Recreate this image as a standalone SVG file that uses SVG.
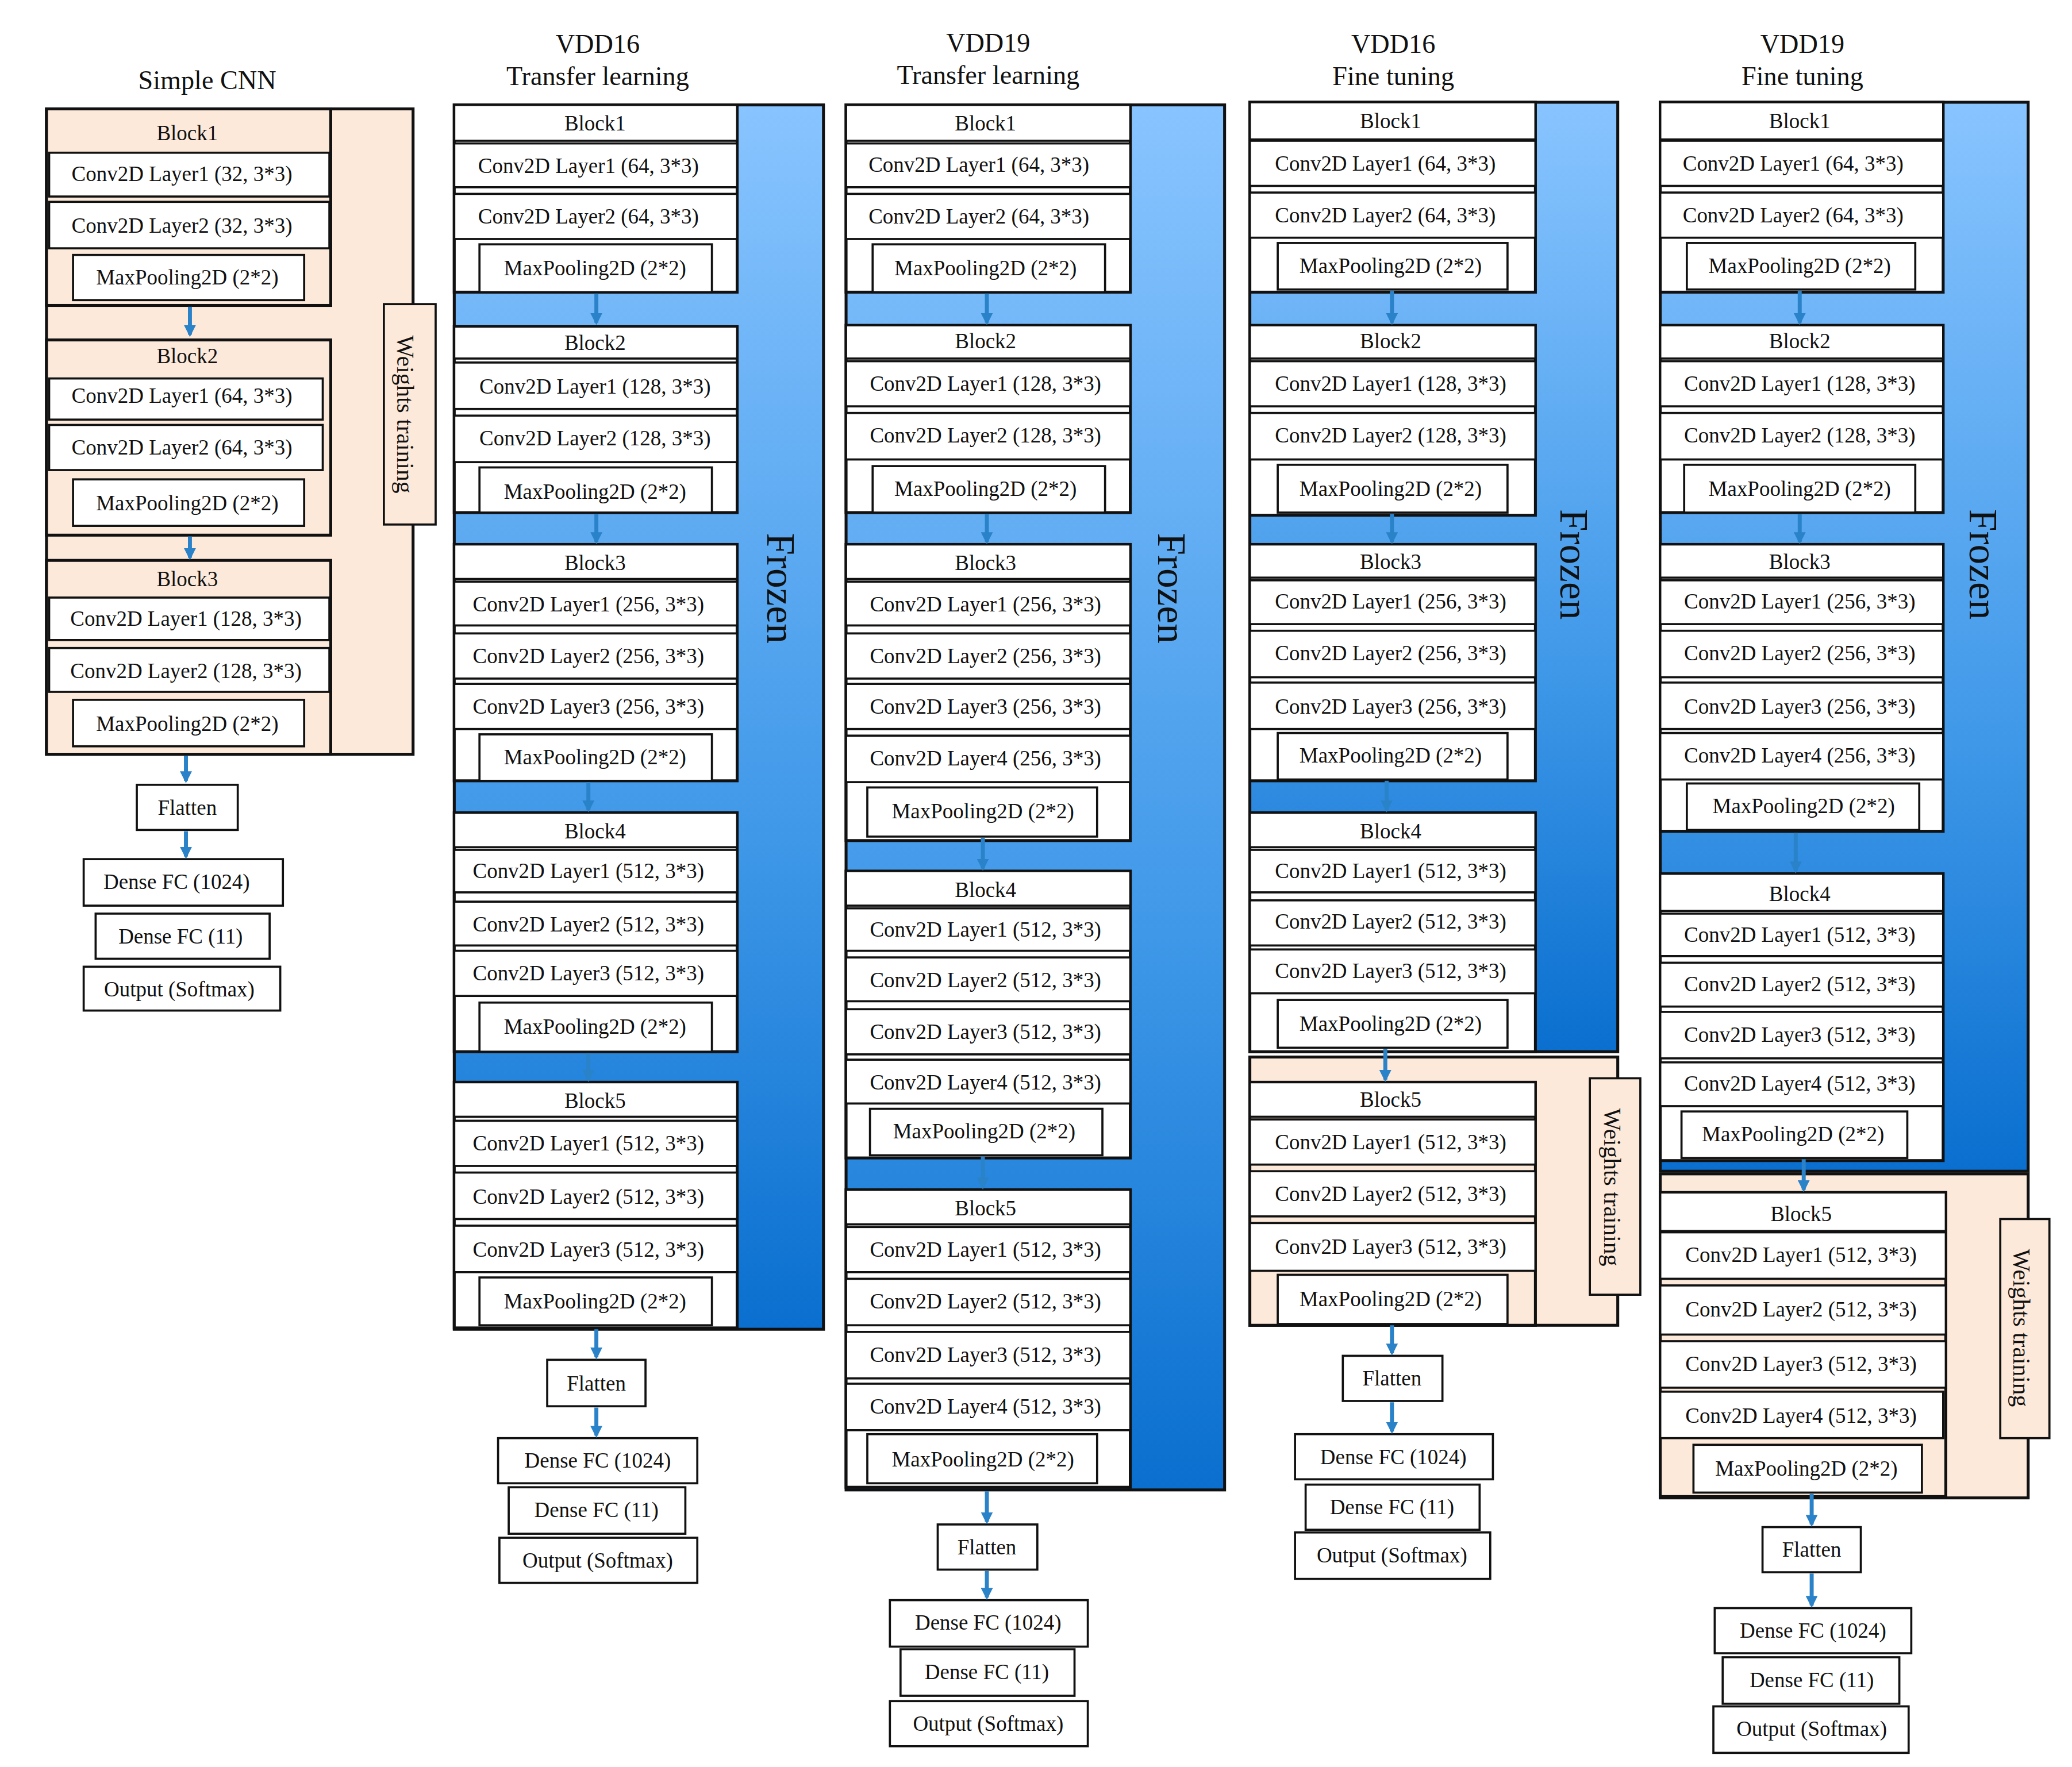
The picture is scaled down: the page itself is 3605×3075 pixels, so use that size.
<svg xmlns="http://www.w3.org/2000/svg" width="3605" height="3075" viewBox="0 0 3605 3075">
<style>
text{font-family:"Liberation Serif","Times New Roman",serif;fill:#111}
.l{font-size:16px;text-anchor:middle;dominant-baseline:central}
.t{font-size:20px;text-anchor:middle}
.fz{font-size:30px;text-anchor:middle;dominant-baseline:central}
.wt{font-size:18px;text-anchor:middle;dominant-baseline:central}
.r{fill:#fff;stroke:#111;stroke-width:1.6}
.p{fill:#fde9da;stroke:#111;stroke-width:1.6}
.bo{fill:#fff;stroke:#111;stroke-width:2.2}
.bp{fill:#fde9da;stroke:#111;stroke-width:2.2}
.a{stroke:#2a82c8;stroke-width:3;fill:none;marker-end:url(#ah)}
</style>
<defs>
<linearGradient id="bg" x1="0" y1="0" x2="0" y2="1"><stop offset="0" stop-color="#88c4ff"/><stop offset="0.6" stop-color="#3f98e8"/><stop offset="1" stop-color="#0a6fcf"/></linearGradient>
<marker id="ah" viewBox="0 0 10 10" refX="8" refY="5" markerWidth="3" markerHeight="3" orient="auto"><path d="M0,0L10,5L0,10z" fill="#2a82c8"/></marker>
</defs>
<rect width="3605" height="3075" fill="#fff"/>
<g transform="scale(2.3109)">
<!-- titles -->
<g id="titles">
<text class="t" x="156" y="67">Simple CNN</text>
<text class="t" x="450" y="40">VDD16</text><text class="t" x="450" y="64">Transfer learning</text>
<text class="t" x="744" y="39">VDD19</text><text class="t" x="744" y="63">Transfer learning</text>
<text class="t" x="1049" y="40">VDD16</text><text class="t" x="1049" y="64">Fine tuning</text>
<text class="t" x="1357" y="40">VDD19</text><text class="t" x="1357" y="64">Fine tuning</text>
</g>
<!-- backgrounds -->
<g id="backgrounds">
<rect x="35" y="82" width="276" height="486" class="bp"/>
<rect x="342" y="79" width="278" height="922" fill="url(#bg)" stroke="#111" stroke-width="2.2"/>
<rect x="637" y="79" width="285" height="1043" fill="url(#bg)" stroke="#111" stroke-width="2.2"/>
<rect x="941" y="77" width="277" height="715" fill="url(#bg)" stroke="#111" stroke-width="2.2"/>
<rect x="941" y="796" width="277" height="202" class="bp"/>
<rect x="1250" y="77" width="277" height="805" fill="url(#bg)" stroke="#111" stroke-width="2.2"/>
<rect x="1250" y="884" width="277" height="244" class="bp"/>
</g>
<!-- Simple CNN -->
<g id="cnn-b1"><rect class="bp" x="35" y="82" width="214" height="148"/>
<rect class="r" x="37" y="115" width="211" height="33"/><text class="l" x="137" y="131">Conv2D Layer1 (32, 3*3)</text>
<rect class="r" x="37" y="152" width="211" height="35"/><text class="l" x="137" y="170">Conv2D Layer2 (32, 3*3)</text>
<rect class="r" x="55" y="192" width="174" height="34"/><text class="l" x="141" y="209">MaxPooling2D (2*2)</text>
<text class="l" x="141" y="100">Block1</text></g>
<g id="cnn-b2"><rect class="bp" x="35" y="256" width="214" height="147"/>
<rect class="r" x="37" y="285" width="206" height="31"/><text class="l" x="137" y="298">Conv2D Layer1 (64, 3*3)</text>
<rect class="r" x="37" y="320" width="206" height="34"/><text class="l" x="137" y="337">Conv2D Layer2 (64, 3*3)</text>
<rect class="r" x="55" y="361" width="174" height="35"/><text class="l" x="141" y="379">MaxPooling2D (2*2)</text>
<text class="l" x="141" y="268">Block2</text></g>
<g id="cnn-b3"><rect class="bp" x="35" y="422" width="214" height="146"/>
<rect class="r" x="37" y="450" width="211" height="32"/><text class="l" x="140" y="466">Conv2D Layer1 (128, 3*3)</text>
<rect class="r" x="37" y="488" width="211" height="33"/><text class="l" x="140" y="505">Conv2D Layer2 (128, 3*3)</text>
<rect class="r" x="55" y="527" width="174" height="35"/><text class="l" x="141" y="545">MaxPooling2D (2*2)</text>
<text class="l" x="141" y="436">Block3</text></g>
<g id="cnn-wt"><rect class="p" x="289" y="229" width="39" height="166"/><text class="wt" transform="translate(305,312) rotate(90)">Weights training</text></g>
<g id="cnn-head">
<rect class="r" x="103" y="591" width="76" height="34"/><text class="l" x="141" y="608">Flatten</text>
<rect class="r" x="63" y="647" width="150" height="35"/><text class="l" x="133" y="664">Dense FC  (1024)</text>
<rect class="r" x="72" y="688" width="131" height="34"/><text class="l" x="136" y="705">Dense FC  (11)</text>
<rect class="r" x="63" y="728" width="148" height="33"/><text class="l" x="135" y="745">Output (Softmax)</text></g>

<!-- VDD16 TL -->
<g id="v16t-b1"><rect class="bo" x="342" y="79" width="213" height="141"/>
<rect class="r" x="342" y="79" width="213" height="27"/><text class="l" x="448" y="93">Block1</text>
<rect class="r" x="342" y="108" width="213" height="33"/><text class="l" x="443" y="125">Conv2D Layer1 (64, 3*3)</text>
<rect class="r" x="342" y="146" width="213" height="34"/><text class="l" x="443" y="163">Conv2D Layer2 (64, 3*3)</text>
<rect class="r" x="361" y="184" width="175" height="36"/><text class="l" x="448" y="202">MaxPooling2D (2*2)</text></g>
<g id="v16t-b2"><rect class="bo" x="342" y="246" width="213" height="140"/>
<rect class="r" x="342" y="246" width="213" height="24"/><text class="l" x="448" y="258">Block2</text>
<rect class="r" x="342" y="273" width="213" height="35"/><text class="l" x="448" y="291">Conv2D Layer1 (128, 3*3)</text>
<rect class="r" x="342" y="313" width="213" height="35"/><text class="l" x="448" y="330">Conv2D Layer2 (128, 3*3)</text>
<rect class="r" x="361" y="352" width="175" height="34"/><text class="l" x="448" y="370">MaxPooling2D (2*2)</text></g>
<g id="v16t-b3"><rect class="bo" x="342" y="410" width="213" height="178"/>
<rect class="r" x="342" y="410" width="213" height="26"/><text class="l" x="448" y="424">Block3</text>
<rect class="r" x="342" y="438" width="213" height="33"/><text class="l" x="443" y="455">Conv2D Layer1 (256, 3*3)</text>
<rect class="r" x="342" y="477" width="213" height="34"/><text class="l" x="443" y="494">Conv2D Layer2 (256, 3*3)</text>
<rect class="r" x="342" y="515" width="213" height="34"/><text class="l" x="443" y="532">Conv2D Layer3 (256, 3*3)</text>
<rect class="r" x="361" y="553" width="175" height="35"/><text class="l" x="448" y="570">MaxPooling2D (2*2)</text></g>
<g id="v16t-b4"><rect class="bo" x="342" y="612" width="213" height="180"/>
<rect class="r" x="342" y="612" width="213" height="26"/><text class="l" x="448" y="626">Block4</text>
<rect class="r" x="342" y="640" width="213" height="32"/><text class="l" x="443" y="656">Conv2D Layer1 (512, 3*3)</text>
<rect class="r" x="342" y="679" width="213" height="33"/><text class="l" x="443" y="696">Conv2D Layer2 (512, 3*3)</text>
<rect class="r" x="342" y="716" width="213" height="34"/><text class="l" x="443" y="733">Conv2D Layer3 (512, 3*3)</text>
<rect class="r" x="361" y="755" width="175" height="37"/><text class="l" x="448" y="773">MaxPooling2D (2*2)</text></g>
<g id="v16t-b5"><rect class="bo" x="342" y="815" width="213" height="185"/>
<rect class="r" x="342" y="815" width="213" height="26"/><text class="l" x="448" y="829">Block5</text>
<rect class="r" x="342" y="844" width="213" height="34"/><text class="l" x="443" y="861">Conv2D Layer1 (512, 3*3)</text>
<rect class="r" x="342" y="883" width="213" height="35"/><text class="l" x="443" y="901">Conv2D Layer2 (512, 3*3)</text>
<rect class="r" x="342" y="923" width="213" height="35"/><text class="l" x="443" y="941">Conv2D Layer3 (512, 3*3)</text>
<rect class="r" x="361" y="962" width="175" height="36"/><text class="l" x="448" y="980">MaxPooling2D (2*2)</text></g>
<g id="v16t-frozen"><text class="fz" transform="translate(588,443) rotate(90)">Frozen</text></g>
<g id="v16t-head">
<rect class="r" x="412" y="1024" width="74" height="35"/><text class="l" x="449" y="1042">Flatten</text>
<rect class="r" x="375" y="1083" width="150" height="34"/><text class="l" x="450" y="1100">Dense FC  (1024)</text>
<rect class="r" x="383" y="1120" width="133" height="35"/><text class="l" x="449" y="1137">Dense FC  (11)</text>
<rect class="r" x="376" y="1158" width="149" height="34"/><text class="l" x="450" y="1175">Output (Softmax)</text></g>

<!-- VDD19 TL -->
<g id="v19t-b1"><rect class="bo" x="637" y="79" width="214" height="141"/>
<rect class="r" x="637" y="79" width="214" height="27"/><text class="l" x="742" y="93">Block1</text>
<rect class="r" x="637" y="108" width="214" height="33"/><text class="l" x="737" y="124">Conv2D Layer1 (64, 3*3)</text>
<rect class="r" x="637" y="146" width="214" height="34"/><text class="l" x="737" y="163">Conv2D Layer2 (64, 3*3)</text>
<rect class="r" x="657" y="184" width="175" height="36"/><text class="l" x="742" y="202">MaxPooling2D (2*2)</text></g>
<g id="v19t-b2"><rect class="bo" x="637" y="245" width="214" height="141"/>
<rect class="r" x="637" y="245" width="214" height="25"/><text class="l" x="742" y="257">Block2</text>
<rect class="r" x="637" y="272" width="214" height="34"/><text class="l" x="742" y="289">Conv2D Layer1 (128, 3*3)</text>
<rect class="r" x="637" y="311" width="214" height="35"/><text class="l" x="742" y="328">Conv2D Layer2 (128, 3*3)</text>
<rect class="r" x="657" y="351" width="175" height="35"/><text class="l" x="742" y="368">MaxPooling2D (2*2)</text></g>
<g id="v19t-b3"><rect class="bo" x="637" y="410" width="214" height="223"/>
<rect class="r" x="637" y="410" width="214" height="26"/><text class="l" x="742" y="424">Block3</text>
<rect class="r" x="637" y="438" width="214" height="33"/><text class="l" x="742" y="455">Conv2D Layer1 (256, 3*3)</text>
<rect class="r" x="637" y="477" width="214" height="34"/><text class="l" x="742" y="494">Conv2D Layer2 (256, 3*3)</text>
<rect class="r" x="637" y="515" width="214" height="34"/><text class="l" x="742" y="532">Conv2D Layer3 (256, 3*3)</text>
<rect class="r" x="637" y="554" width="214" height="35"/><text class="l" x="742" y="571">Conv2D Layer4 (256, 3*3)</text>
<rect class="r" x="653" y="593" width="173" height="37"/><text class="l" x="740" y="611">MaxPooling2D (2*2)</text></g>
<g id="v19t-b4"><rect class="bo" x="637" y="656" width="214" height="216"/>
<rect class="r" x="637" y="656" width="214" height="26"/><text class="l" x="742" y="670">Block4</text>
<rect class="r" x="637" y="684" width="214" height="32"/><text class="l" x="742" y="700">Conv2D Layer1 (512, 3*3)</text>
<rect class="r" x="637" y="721" width="214" height="33"/><text class="l" x="742" y="738">Conv2D Layer2 (512, 3*3)</text>
<rect class="r" x="637" y="760" width="214" height="34"/><text class="l" x="742" y="777">Conv2D Layer3 (512, 3*3)</text>
<rect class="r" x="637" y="798" width="214" height="33"/><text class="l" x="742" y="815">Conv2D Layer4 (512, 3*3)</text>
<rect class="r" x="655" y="835" width="175" height="35"/><text class="l" x="741" y="852">MaxPooling2D (2*2)</text></g>
<g id="v19t-b5"><rect class="bo" x="637" y="896" width="214" height="224"/>
<rect class="r" x="637" y="896" width="214" height="26"/><text class="l" x="742" y="910">Block5</text>
<rect class="r" x="637" y="924" width="214" height="34"/><text class="l" x="742" y="941">Conv2D Layer1 (512, 3*3)</text>
<rect class="r" x="637" y="963" width="214" height="35"/><text class="l" x="742" y="980">Conv2D Layer2 (512, 3*3)</text>
<rect class="r" x="637" y="1003" width="214" height="35"/><text class="l" x="742" y="1020">Conv2D Layer3 (512, 3*3)</text>
<rect class="r" x="637" y="1042" width="214" height="35"/><text class="l" x="742" y="1059">Conv2D Layer4 (512, 3*3)</text>
<rect class="r" x="653" y="1080" width="173" height="37"/><text class="l" x="740" y="1099">MaxPooling2D (2*2)</text></g>
<g id="v19t-frozen"><text class="fz" transform="translate(882,443) rotate(90)">Frozen</text></g>
<g id="v19t-head">
<rect class="r" x="706" y="1148" width="75" height="34"/><text class="l" x="743" y="1165">Flatten</text>
<rect class="r" x="670" y="1205" width="149" height="35"/><text class="l" x="744" y="1222">Dense FC  (1024)</text>
<rect class="r" x="678" y="1242" width="131" height="35"/><text class="l" x="743" y="1259">Dense FC  (11)</text>
<rect class="r" x="670" y="1281" width="149" height="34"/><text class="l" x="744" y="1298">Output (Softmax)</text></g>

<!-- VDD16 FT -->
<g id="v16f-b1"><rect class="bo" x="941" y="77" width="215" height="143"/>
<rect class="r" x="941" y="77" width="215" height="28"/><text class="l" x="1047" y="91">Block1</text>
<rect class="r" x="941" y="106" width="215" height="34"/><text class="l" x="1043" y="123">Conv2D Layer1 (64, 3*3)</text>
<rect class="r" x="941" y="145" width="215" height="34"/><text class="l" x="1043" y="162">Conv2D Layer2 (64, 3*3)</text>
<rect class="r" x="962" y="183" width="173" height="35"/><text class="l" x="1047" y="200">MaxPooling2D (2*2)</text></g>
<g id="v16f-b2"><rect class="bo" x="941" y="245" width="215" height="143"/>
<rect class="r" x="941" y="245" width="215" height="25"/><text class="l" x="1047" y="257">Block2</text>
<rect class="r" x="941" y="272" width="215" height="34"/><text class="l" x="1047" y="289">Conv2D Layer1 (128, 3*3)</text>
<rect class="r" x="941" y="311" width="215" height="35"/><text class="l" x="1047" y="328">Conv2D Layer2 (128, 3*3)</text>
<rect class="r" x="962" y="350" width="173" height="36"/><text class="l" x="1047" y="368">MaxPooling2D (2*2)</text></g>
<g id="v16f-b3"><rect class="bo" x="941" y="410" width="215" height="178"/>
<rect class="r" x="941" y="410" width="215" height="25"/><text class="l" x="1047" y="423">Block3</text>
<rect class="r" x="941" y="437" width="215" height="33"/><text class="l" x="1047" y="453">Conv2D Layer1 (256, 3*3)</text>
<rect class="r" x="941" y="475" width="215" height="35"/><text class="l" x="1047" y="492">Conv2D Layer2 (256, 3*3)</text>
<rect class="r" x="941" y="514" width="215" height="35"/><text class="l" x="1047" y="532">Conv2D Layer3 (256, 3*3)</text>
<rect class="r" x="962" y="552" width="173" height="35"/><text class="l" x="1047" y="569">MaxPooling2D (2*2)</text></g>
<g id="v16f-b4"><rect class="bo" x="941" y="612" width="215" height="180"/>
<rect class="r" x="941" y="612" width="215" height="26"/><text class="l" x="1047" y="626">Block4</text>
<rect class="r" x="941" y="640" width="215" height="32"/><text class="l" x="1047" y="656">Conv2D Layer1 (512, 3*3)</text>
<rect class="r" x="941" y="678" width="215" height="34"/><text class="l" x="1047" y="694">Conv2D Layer2 (512, 3*3)</text>
<rect class="r" x="941" y="715" width="215" height="33"/><text class="l" x="1047" y="731">Conv2D Layer3 (512, 3*3)</text>
<rect class="r" x="962" y="753" width="173" height="36"/><text class="l" x="1047" y="771">MaxPooling2D (2*2)</text></g>
<g id="v16f-frozen"><text class="fz" transform="translate(1185,425) rotate(90)">Frozen</text></g>
<g id="v16f-b5"><rect class="bp" x="941" y="815" width="215" height="183"/>
<rect class="r" x="941" y="815" width="215" height="26"/><text class="l" x="1047" y="828">Block5</text>
<rect class="r" x="941" y="843" width="215" height="34"/><text class="l" x="1047" y="860">Conv2D Layer1 (512, 3*3)</text>
<rect class="r" x="941" y="882" width="215" height="34"/><text class="l" x="1047" y="899">Conv2D Layer2 (512, 3*3)</text>
<rect class="r" x="941" y="921" width="215" height="36"/><text class="l" x="1047" y="939">Conv2D Layer3 (512, 3*3)</text>
<rect class="r" x="962" y="960" width="173" height="37"/><text class="l" x="1047" y="978">MaxPooling2D (2*2)</text></g>
<g id="v16f-wt"><rect class="p" x="1197" y="812" width="38" height="163"/><text class="wt" transform="translate(1214,894) rotate(90)">Weights training</text></g>
<g id="v16f-head">
<rect class="r" x="1011" y="1021" width="75" height="34"/><text class="l" x="1048" y="1038">Flatten</text>
<rect class="r" x="975" y="1080" width="149" height="34"/><text class="l" x="1049" y="1097">Dense FC  (1024)</text>
<rect class="r" x="983" y="1118" width="131" height="34"/><text class="l" x="1048" y="1135">Dense FC  (11)</text>
<rect class="r" x="975" y="1154" width="147" height="35"/><text class="l" x="1048" y="1171">Output (Softmax)</text></g>

<!-- VDD19 FT -->
<g id="v19f-b1"><rect class="bo" x="1250" y="77" width="213" height="143"/>
<rect class="r" x="1250" y="77" width="213" height="28"/><text class="l" x="1355" y="91">Block1</text>
<rect class="r" x="1250" y="106" width="213" height="34"/><text class="l" x="1350" y="123">Conv2D Layer1 (64, 3*3)</text>
<rect class="r" x="1250" y="145" width="213" height="34"/><text class="l" x="1350" y="162">Conv2D Layer2 (64, 3*3)</text>
<rect class="r" x="1270" y="183" width="172" height="35"/><text class="l" x="1355" y="200">MaxPooling2D (2*2)</text></g>
<g id="v19f-b2"><rect class="bo" x="1250" y="245" width="213" height="141"/>
<rect class="r" x="1250" y="245" width="213" height="25"/><text class="l" x="1355" y="257">Block2</text>
<rect class="r" x="1250" y="272" width="213" height="34"/><text class="l" x="1355" y="289">Conv2D Layer1 (128, 3*3)</text>
<rect class="r" x="1250" y="311" width="213" height="35"/><text class="l" x="1355" y="328">Conv2D Layer2 (128, 3*3)</text>
<rect class="r" x="1268" y="350" width="174" height="36"/><text class="l" x="1355" y="368">MaxPooling2D (2*2)</text></g>
<g id="v19f-b3"><rect class="bo" x="1250" y="410" width="213" height="216"/>
<rect class="r" x="1250" y="410" width="213" height="25"/><text class="l" x="1355" y="423">Block3</text>
<rect class="r" x="1250" y="437" width="213" height="33"/><text class="l" x="1355" y="453">Conv2D Layer1 (256, 3*3)</text>
<rect class="r" x="1250" y="475" width="213" height="35"/><text class="l" x="1355" y="492">Conv2D Layer2 (256, 3*3)</text>
<rect class="r" x="1250" y="514" width="213" height="35"/><text class="l" x="1355" y="532">Conv2D Layer3 (256, 3*3)</text>
<rect class="r" x="1250" y="552" width="213" height="35"/><text class="l" x="1355" y="569">Conv2D Layer4 (256, 3*3)</text>
<rect class="r" x="1270" y="590" width="175" height="35"/><text class="l" x="1358" y="607">MaxPooling2D (2*2)</text></g>
<g id="v19f-b4"><rect class="bo" x="1250" y="658" width="213" height="216"/>
<rect class="r" x="1250" y="658" width="213" height="28"/><text class="l" x="1355" y="673">Block4</text>
<rect class="r" x="1250" y="688" width="213" height="32"/><text class="l" x="1355" y="704">Conv2D Layer1 (512, 3*3)</text>
<rect class="r" x="1250" y="725" width="213" height="33"/><text class="l" x="1355" y="741">Conv2D Layer2 (512, 3*3)</text>
<rect class="r" x="1250" y="762" width="213" height="35"/><text class="l" x="1355" y="779">Conv2D Layer3 (512, 3*3)</text>
<rect class="r" x="1250" y="800" width="213" height="33"/><text class="l" x="1355" y="816">Conv2D Layer4 (512, 3*3)</text>
<rect class="r" x="1266" y="837" width="170" height="35"/><text class="l" x="1350" y="854">MaxPooling2D (2*2)</text></g>
<g id="v19f-frozen"><text class="fz" transform="translate(1493,425) rotate(90)">Frozen</text></g>
<g id="v19f-b5"><rect class="bp" x="1250" y="898" width="215" height="229"/>
<rect class="r" x="1250" y="898" width="215" height="29"/><text class="l" x="1356" y="914">Block5</text>
<rect class="r" x="1250" y="928" width="215" height="35"/><text class="l" x="1356" y="945">Conv2D Layer1 (512, 3*3)</text>
<rect class="r" x="1250" y="968" width="215" height="37"/><text class="l" x="1356" y="986">Conv2D Layer2 (512, 3*3)</text>
<rect class="r" x="1250" y="1010" width="215" height="35"/><text class="l" x="1356" y="1027">Conv2D Layer3 (512, 3*3)</text>
<rect class="r" x="1250" y="1048" width="213" height="35"/><text class="l" x="1356" y="1066">Conv2D Layer4 (512, 3*3)</text>
<rect class="r" x="1275" y="1088" width="172" height="36"/><text class="l" x="1360" y="1106">MaxPooling2D (2*2)</text></g>
<g id="v19f-wt"><rect class="p" x="1506" y="918" width="37" height="165"/><text class="wt" transform="translate(1522,1000) rotate(90)">Weights training</text></g>
<g id="v19f-head">
<rect class="r" x="1327" y="1150" width="74" height="34"/><text class="l" x="1364" y="1167">Flatten</text>
<rect class="r" x="1291" y="1211" width="148" height="34"/><text class="l" x="1365" y="1228">Dense FC  (1024)</text>
<rect class="r" x="1297" y="1248" width="133" height="35"/><text class="l" x="1364" y="1265">Dense FC  (11)</text>
<rect class="r" x="1290" y="1285" width="147" height="35"/><text class="l" x="1364" y="1302">Output (Softmax)</text></g>

<g id="connectors">
<path class="a" d="M143 231V252"/><path class="a" d="M143 404V420"/><path class="a" d="M140 569V588"/><path class="a" d="M140 626V645"/>
<path class="a" d="M449 221V243"/><path class="a" d="M449 387V408"/><path class="a" d="M443 589V610"/><path class="a" d="M443 793V813"/><path class="a" d="M449 1001V1022"/><path class="a" d="M449 1060V1081"/>
<path class="a" d="M743 221V243"/><path class="a" d="M743 387V408"/><path class="a" d="M740 631V654"/><path class="a" d="M740 871V894"/><path class="a" d="M743 1123V1146"/><path class="a" d="M743 1183V1203"/>
<path class="a" d="M1048 219V243"/><path class="a" d="M1048 387V408"/><path class="a" d="M1044 588V610"/><path class="a" d="M1043 790V813"/><path class="a" d="M1048 998V1019"/><path class="a" d="M1048 1056V1078"/>
<path class="a" d="M1355 219V243"/><path class="a" d="M1355 387V408"/><path class="a" d="M1352 627V656"/><path class="a" d="M1358 873V896"/><path class="a" d="M1364 1125V1148"/><path class="a" d="M1364 1185V1209"/>
</g>
</g>
</svg>
